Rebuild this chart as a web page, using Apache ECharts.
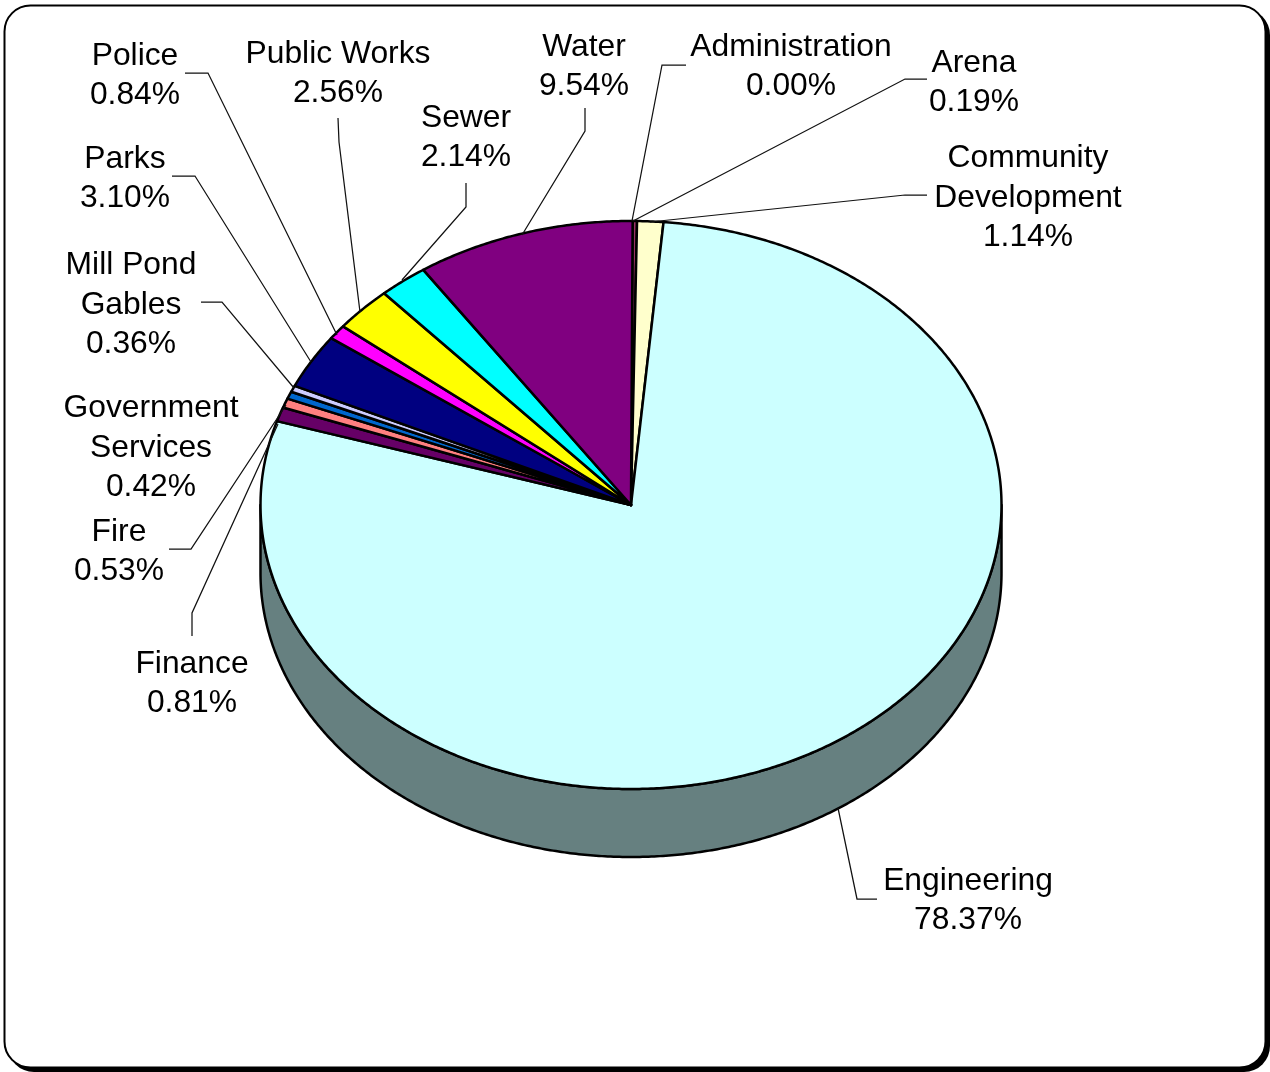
<!DOCTYPE html>
<html>
<head>
<meta charset="utf-8">
<style>html,body{margin:0;padding:0;background:#fff}#c{width:1270px;height:1072px}</style>
<script src="https://cdn.jsdelivr.net/npm/echarts@6/dist/echarts.min.js"></script>
</head>
<body>
<div id="c"></div>
<script>
// Data
const categories = ['Administration','Arena','Community\nDevelopment','Engineering','Finance','Fire','Government\nServices','Mill Pond\nGables','Parks','Police','Public Works','Sewer','Water'];
const shares = [0.00,0.19,1.14,78.37,0.81,0.53,0.42,0.36,3.10,0.84,2.56,2.14,9.54];
const colors = ['#FF8080','#993366','#FFFFCC','#CCFFFF','#660066','#FF8080','#0066CC','#CCCCFF','#000080','#FF00FF','#FFFF00','#00FFFF','#800080'];

// Layout
const cx = 631, cy = 505, rx = 370.5, ry = 284, depth = 68;
const startOffset = 0.07;
const sideColor = '#668080';
const labelPos = [[791,67],[974,83],[1028,198],[968,901],[192,684],[119,552],[151,448],[131,305],[125,179],[135,76],[338,74],[466,138],[584,67]];
const leaders = [
  [[686,65],[662,65],[632,221]],
  [[927,79],[905,79],[633,221]],
  [[927,195],[905,195],[650,222]],
  [[877,899],[857,899],[838,808]],
  [[192,636],[192,613],[278,424]],
  [[169,549],[191,549],[286,405]],
  null,
  [[201,302],[222,302],[294,388]],
  [[172,176],[195,176],[311,362]],
  [[185,73],[208,73],[337,335]],
  [[338,118],[339,142],[360,312]],
  [[466,183],[466,207],[402,280]],
  [[585,108],[585,131],[522,235]]
];

const total = shares.reduce((a,b)=>a+b,0);
const starts = [];
shares.reduce((acc,v,i)=>{starts[i]=acc;return acc+v;},0);
const pt = (frac, dy) => {
  const t = frac / total * 2 * Math.PI;
  return [cx + rx*Math.sin(t), cy - ry*Math.cos(t) + (dy||0)];
};
const arc = (f0, f1, dy) => {
  const n = Math.max(2, Math.ceil(Math.abs(f1-f0)*8));
  const out = [];
  for (let k=0;k<=n;k++) out.push(pt(f0+(f1-f0)*k/n, dy));
  return out;
};

const font = '"Liberation Sans", Arial, sans-serif';
const fontSize = 31.8;

const chart = echarts.init(document.getElementById('c'), null, {renderer:'canvas'});
chart.setOption({
  animation:false,
  backgroundColor:'#fff',
  graphic:[
    {type:'rect',z:-10,shape:{x:8,y:9,width:1262,height:1063,r:26},style:{fill:'#000'},silent:true},
    {type:'rect',z:-9,shape:{x:4.5,y:5.5,width:1261,height:1062,r:26},style:{fill:'#fff',stroke:'#000',lineWidth:2},silent:true}
  ],
  series:[
    // side wall
    {type:'custom',coordinateSystem:'none',silent:true,z:1,
     data:[[0]],
     renderItem(){
       const f0 = total*0.25, f1 = total*0.75;
       const front = arc(f0,f1,0);
       const back = arc(f1,f0,depth);
       return {type:'polygon',shape:{points:front.concat(back)},style:{fill:sideColor,stroke:'#000',lineWidth:2.5,lineJoin:'round'}};
     }},
    // slices
    {type:'custom',coordinateSystem:'none',silent:true,z:2,
     data:shares.map((v,i)=>[v,starts[i],i]),
     renderItem(params,api){
       const v = api.value(0), s = api.value(1) + startOffset, i = api.value(2);
       return {type:'polygon',shape:{points:[[cx,cy]].concat(arc(s,s+v,0))},
         style:{fill:colors[i],stroke:'#000',lineWidth:2.5,lineJoin:'round'}};
     }},
    // leaders + labels
    {type:'custom',coordinateSystem:'none',silent:true,z:3,
     data:shares.map((v,i)=>[v,i]),
     renderItem(params,api){
       const v = api.value(0), i = api.value(1);
       const children = [];
       if (leaders[i]) children.push({type:'polyline',shape:{points:leaders[i]},style:{fill:null,stroke:'#111',lineWidth:1.25}});
       children.push({type:'text',x:labelPos[i][0],y:labelPos[i][1],style:{
         text:categories[i]+'\n'+v.toFixed(2)+'%',align:'center',verticalAlign:'middle',
         font:fontSize+'px '+font,lineHeight:39.3,fill:'#000'}});
       return {type:'group',children};
     }}
  ]
});
</script>
</body>
</html>
